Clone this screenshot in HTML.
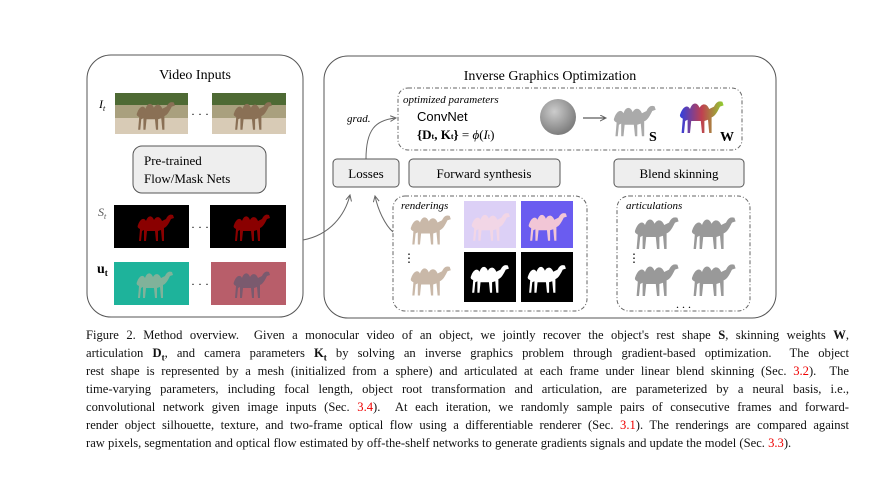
<!DOCTYPE html>
<html><head><meta charset="utf-8"><style>
body{margin:0;width:890px;height:482px;background:#fff;overflow:hidden;position:relative;font-family:"Liberation Serif",serif;}
svg{position:absolute;left:0;top:0}
.cap{position:absolute;left:86px;width:763px;font-size:12.6px;line-height:18px;color:#111;white-space:nowrap;text-align:justify;text-align-last:justify;}
.cap.l{text-align-last:left}
.r{color:#e00}
b{font-weight:bold}
</style></head><body>
<svg width="890" height="482" viewBox="0 0 890 482" font-family="Liberation Serif, serif">
<defs>
<marker id="ar" markerWidth="8" markerHeight="8" refX="6" refY="3" orient="auto"><path d="M0,0 L6,3 L0,6" fill="none" stroke="#666" stroke-width="1"/></marker>
<symbol id="c" viewBox="0 0 40 30"><path d="M2,14 C4,8 8,6 10,10 C12,4 16,4 18,9 C20,5 24,5 26,10 L30,8 C32,4 34,3 37,4 L38,7 L35,8 C33,12 31,16 28,17 L28,30 L26,30 L25,19 L22,20 L22,30 L20,30 L19,20 L11,20 L10,30 L8,30 L8,19 L6,20 L5,30 L3,30 L4,18 C2,17 1,16 2,14 Z"/></symbol>
<radialGradient id="sg" cx="0.4" cy="0.35" r="0.7"><stop offset="0" stop-color="#ccc"/><stop offset="1" stop-color="#777"/></radialGradient>
<linearGradient id="wg" x1="0" x2="1"><stop offset="0" stop-color="#3040e0"/><stop offset="0.5" stop-color="#c04050"/><stop offset="1" stop-color="#90d030"/></linearGradient>
</defs>
<rect x="87" y="55" width="216" height="262" rx="24" fill="#fff" stroke="#555" stroke-width="1"/>
<rect x="324" y="56" width="452" height="262" rx="24" fill="#fff" stroke="#555" stroke-width="1"/>
<text x="195" y="79" font-size="14" text-anchor="middle">Video Inputs</text>
<text x="550" y="80" font-size="14" text-anchor="middle">Inverse Graphics Optimization</text>
<text x="99" y="108" font-size="12" font-style="italic">I<tspan font-size="8" dy="3">t</tspan></text>
<rect x="115" y="93" width="73" height="41" fill="#a9a07e"/><rect x="115" y="93" width="73" height="12" fill="#4e6a34"/><rect x="115" y="118" width="73" height="16" fill="#d8cbb6"/>
<use href="#c" x="135" y="98" width="42" height="32" fill="#8a7055"/>
<rect x="212" y="93" width="74" height="41" fill="#a9a07e"/><rect x="212" y="93" width="74" height="12" fill="#4e6a34"/><rect x="212" y="118" width="74" height="16" fill="#d8cbb6"/>
<use href="#c" x="232" y="98" width="42" height="32" fill="#8a7055"/>
<text x="200" y="118" font-size="12" text-anchor="middle">· · ·</text>
<rect x="133" y="146" width="133" height="47" rx="9" fill="#eee" stroke="#555"/>
<text x="144" y="165" font-size="13">Pre-trained</text><text x="144" y="183" font-size="13">Flow/Mask Nets</text>
<text x="98" y="216" font-size="12" font-style="italic" fill="#555">S<tspan font-size="8" dy="3">t</tspan></text>
<rect x="114" y="205" width="75" height="43" fill="#000"/><use href="#c" x="136" y="210" width="40" height="32" fill="#8a0000"/>
<rect x="210" y="205" width="76" height="43" fill="#000"/><use href="#c" x="232" y="210" width="40" height="32" fill="#8a0000"/>
<text x="200" y="231" font-size="12" text-anchor="middle">· · ·</text>
<text x="97" y="273" font-size="14" font-weight="bold">u<tspan font-size="9" dy="3">t</tspan></text>
<rect x="114" y="262" width="75" height="43" fill="#1eb39b"/><use href="#c" x="135" y="267" width="40" height="32" fill="#80b29a"/>
<rect x="211" y="262" width="75" height="43" fill="#b85e6a"/><use href="#c" x="232" y="267" width="40" height="32" fill="#7a5a6e"/>
<text x="200" y="288" font-size="12" text-anchor="middle">· · ·</text>
<path d="M303 240 C 330 235, 345 215, 350 195" fill="none" stroke="#666" marker-end="url(#ar)"/>
<path d="M393 232 C 385 225, 378 210, 375 196" fill="none" stroke="#666" marker-end="url(#ar)"/>
<path d="M366 159 C 366 130, 375 120, 396 118" fill="none" stroke="#666" marker-end="url(#ar)"/>
<text x="347" y="122" font-size="11" font-style="italic">grad.</text>
<rect x="398" y="88" width="344" height="62" rx="10" fill="none" stroke="#666" stroke-dasharray="4,2,1,2"/>
<text x="403" y="103" font-size="11" font-style="italic">optimized parameters</text>
<text x="417" y="121" font-size="13" font-family="Liberation Sans, sans-serif">ConvNet</text>
<text x="417" y="139" font-size="13"><tspan font-weight="bold">{D</tspan><tspan font-size="8" font-weight="bold">t</tspan><tspan font-weight="bold">, K</tspan><tspan font-size="8" font-weight="bold">t</tspan><tspan font-weight="bold">}</tspan> = <tspan font-style="italic">ϕ</tspan>(<tspan font-style="italic">I</tspan><tspan font-size="8">t</tspan>)</text>
<circle cx="558" cy="117" r="18" fill="url(#sg)"/>
<path d="M583 118 L606 118" stroke="#333" marker-end="url(#ar)"/>
<use href="#c" x="612" y="100" width="46" height="38" fill="#aaa"/>
<text x="649" y="141" font-size="14" font-weight="bold">S</text>
<use href="#c" x="678" y="92" width="48" height="46" fill="url(#wg)"/>
<text x="720" y="141" font-size="14" font-weight="bold">W</text>
<rect x="333" y="159" width="66" height="28" rx="4" fill="#eee" stroke="#555"/><text x="366" y="178" font-size="13" text-anchor="middle">Losses</text>
<rect x="409" y="159" width="151" height="28" rx="4" fill="#eee" stroke="#555"/><text x="484" y="178" font-size="13" text-anchor="middle">Forward synthesis</text>
<rect x="614" y="159" width="130" height="28" rx="4" fill="#eee" stroke="#555"/><text x="679" y="178" font-size="13" text-anchor="middle">Blend skinning</text>
<rect x="393" y="196" width="194" height="115" rx="12" fill="none" stroke="#666" stroke-dasharray="4,2,1,2"/>
<text x="401" y="209" font-size="11" font-style="italic">renderings</text>
<use href="#c" x="409" y="210" width="44" height="36" fill="#c9b8a8"/><use href="#c" x="409" y="261" width="44" height="36" fill="#c9b8a8"/>
<text x="403" y="262" font-size="12">⋮</text>
<rect x="464" y="201" width="52" height="47" fill="#dcd0f6"/><use href="#c" x="470" y="207" width="42" height="36" fill="#f2d6e6"/>
<rect x="521" y="201" width="52" height="47" fill="#6a5cf0"/><use href="#c" x="527" y="207" width="42" height="36" fill="#f2c6d6"/>
<rect x="464" y="252" width="52" height="50" fill="#000"/><use href="#c" x="469" y="259" width="42" height="36" fill="#fff"/>
<rect x="521" y="252" width="52" height="50" fill="#000"/><use href="#c" x="526" y="259" width="42" height="36" fill="#fff"/>
<rect x="617" y="196" width="133" height="115" rx="12" fill="none" stroke="#666" stroke-dasharray="4,2,1,2"/>
<text x="626" y="209" font-size="11" font-style="italic">articulations</text>
<use href="#c" x="633" y="213" width="48" height="36" fill="#999"/><use href="#c" x="690" y="213" width="48" height="36" fill="#999"/>
<use href="#c" x="633" y="260" width="48" height="36" fill="#999"/><use href="#c" x="690" y="260" width="48" height="36" fill="#999"/>
<text x="628" y="262" font-size="12">⋮</text>
<text x="676" y="308" font-size="12">. . .</text>
</svg>
<div class="cap" style="top:326px">Figure 2. Method overview.&nbsp; Given a monocular video of an object, we jointly recover the object's rest shape <b>S</b>, skinning weights <b>W</b>,</div>
<div class="cap" style="top:344px">articulation <b>D<sub style="font-size:9px">t</sub></b>, and camera parameters <b>K<sub style="font-size:9px">t</sub></b> by solving an inverse graphics problem through gradient-based optimization.&nbsp; The object</div>
<div class="cap" style="top:362px">rest shape is represented by a mesh (initialized from a sphere) and articulated at each frame under linear blend skinning (Sec. <span class="r">3.2</span>).&nbsp; The</div>
<div class="cap" style="top:380px">time-varying parameters, including focal length, object root transformation and articulation, are parameterized by a neural basis, i.e.,</div>
<div class="cap" style="top:398px">convolutional network given image inputs (Sec. <span class="r">3.4</span>).&nbsp; At each iteration, we randomly sample pairs of consecutive frames and forward-</div>
<div class="cap" style="top:416px">render object silhouette, texture, and two-frame optical flow using a differentiable renderer (Sec. <span class="r">3.1</span>). The renderings are compared against</div>
<div class="cap l" style="top:434px">raw pixels, segmentation and optical flow estimated by off-the-shelf networks to generate gradients signals and update the model (Sec. <span class="r">3.3</span>).</div>
</body></html>
